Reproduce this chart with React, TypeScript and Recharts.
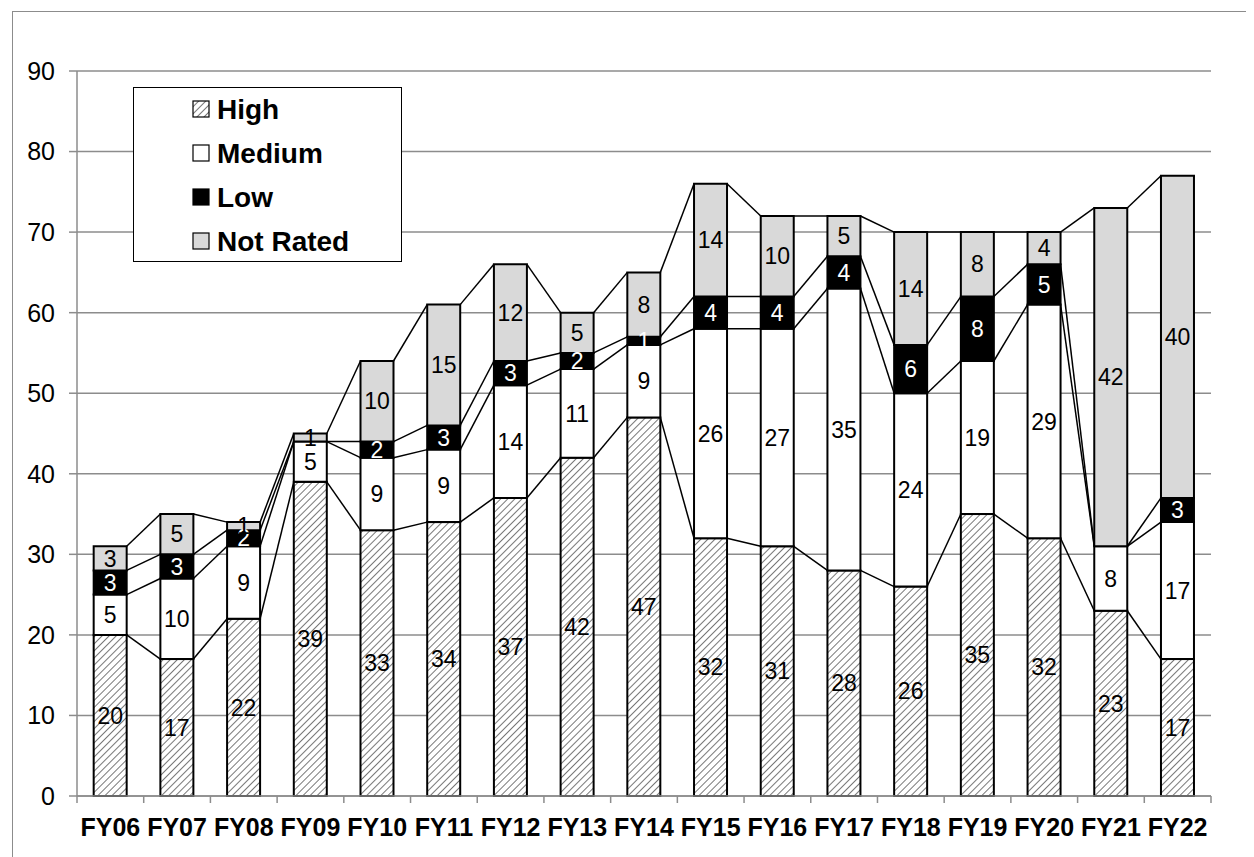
import React from 'react';
import { BarChart, Bar, XAxis, YAxis, CartesianGrid, LabelList, Legend } from 'recharts';

const years = ['FY06', 'FY07', 'FY08', 'FY09', 'FY10', 'FY11', 'FY12', 'FY13', 'FY14', 'FY15', 'FY16', 'FY17', 'FY18', 'FY19', 'FY20', 'FY21', 'FY22'];
const high = [20, 17, 22, 39, 33, 34, 37, 42, 47, 32, 31, 28, 26, 35, 32, 23, 17];
const medium = [5, 10, 9, 5, 9, 9, 14, 11, 9, 26, 27, 35, 24, 19, 29, 8, 17];
const low = [3, 3, 2, 0, 2, 3, 3, 2, 1, 4, 4, 4, 6, 8, 5, 0, 3];
const notRated = [3, 5, 1, 1, 10, 15, 12, 5, 8, 14, 10, 5, 14, 8, 4, 42, 40];
const yTicks = [0, 10, 20, 30, 40, 50, 60, 70, 80, 90];

const data = years.map((name, i) => ({
  name,
  high: high[i],
  medium: medium[i],
  low: low[i],
  notRated: notRated[i],
}));

const CHART_W = 1246;
const CHART_H = 849;
const MARGIN = { top: 63, right: 43, bottom: 21, left: 0 };
const Y_W = 69;
const X_H = 40;
const BAND = (CHART_W - MARGIN.left - MARGIN.right - Y_W) / years.length;

const FONT = '"Liberation Sans", Arial, sans-serif';
const GRID = '#8c8c8c';

// cumulative top of each series for a category
const tops = (i: number) => {
  const a = high[i];
  const b = a + medium[i];
  const c = b + low[i];
  return [a, b, c, c + notRated[i]];
};

// high bar also draws the Excel-style series lines to the next bar
const HighShape = (props: any) => {
  const { x, y, width, height, index } = props;
  const unit = height / high[index];
  const base = y + height;
  const lines: React.ReactNode[] = [];
  if (index < years.length - 1) {
    const cur = tops(index);
    const next = tops(index + 1);
    cur.forEach((v, k) => {
      lines.push(
        <line
          key={k}
          x1={x + width}
          y1={base - v * unit}
          x2={x + BAND}
          y2={base - next[k] * unit}
          stroke="#000"
          strokeWidth={1.5}
        />
      );
    });
  }
  return (
    <g>
      {lines}
      <rect x={x} y={y} width={width} height={height} fill="url(#hatch)" stroke="#000" strokeWidth={2} />
    </g>
  );
};

const XTick = (props: any) => {
  const { x, y, payload, index } = props;
  const half = BAND / 2;
  return (
    <g>
      <line x1={x - half} x2={x - half} y1={y} y2={y + 7} stroke={GRID} strokeWidth={1.5} />
      {index === years.length - 1 && (
        <line x1={x + half} x2={x + half} y1={y} y2={y + 7} stroke={GRID} strokeWidth={1.5} />
      )}
      <text x={x} y={y + 40} textAnchor="middle" fontFamily={FONT} fontWeight="bold" fontSize={25} fill="#000">
        {payload.value}
      </text>
    </g>
  );
};

const legendItems = [
  { label: 'High', fill: 'url(#hatch)' },
  { label: 'Medium', fill: '#ffffff' },
  { label: 'Low', fill: '#000000' },
  { label: 'Not Rated', fill: '#d9d9d9' },
];

const LegendBox = () => (
  <div
    style={{
      boxSizing: 'border-box',
      width: 269,
      height: 175,
      border: '1.5px solid #000',
      background: '#fff',
      paddingLeft: 58,
      paddingTop: 0,
      fontFamily: FONT,
      fontWeight: 'bold',
      fontSize: 28,
    }}
  >
    {legendItems.map((it) => (
      <div key={it.label} style={{ height: 44, display: 'flex', alignItems: 'center' }}>
        <svg width={20} height={20} style={{ marginRight: 5 }}>
          <rect x={1} y={1} width={16} height={16} fill={it.fill} stroke="#000" strokeWidth={1.2} />
        </svg>
        <span>{it.label}</span>
      </div>
    ))}
  </div>
);

const labelStyle = { fontFamily: FONT, fontSize: 23 };

export default function App() {
  return (
    <div style={{ position: 'relative', width: CHART_W, height: CHART_H }}>
      <svg width={0} height={0} style={{ position: 'absolute' }}>
        <defs>
          <pattern id="hatch" patternUnits="userSpaceOnUse" width={5} height={5} patternTransform="rotate(45)">
            <rect width={5} height={5} fill="#fff" />
            <line x1={0} y1={0} x2={0} y2={5} stroke="#555" strokeWidth={1.6} />
          </pattern>
        </defs>
      </svg>
      <div
        style={{
          position: 'absolute',
          left: 4,
          top: 3,
          right: -10,
          bottom: -20,
          borderLeft: `1.5px solid ${GRID}`,
          borderTop: `1.5px solid ${GRID}`,
        }}
      />
      <BarChart width={CHART_W} height={CHART_H} data={data} margin={MARGIN} barCategoryGap="25%">
        <CartesianGrid vertical={false} stroke={GRID} strokeWidth={1.5} />
        <XAxis
          dataKey="name"
          interval={0}
          height={X_H}
          stroke={GRID}
          strokeWidth={1.5}
          tickLine={false}
          tickSize={0}
          tickMargin={0}
          tick={<XTick />}
        />
        <YAxis
          width={Y_W}
          domain={[0, 90]}
          ticks={yTicks}
          interval={0}
          stroke={GRID}
          strokeWidth={1.5}
          tickSize={8}
          tickMargin={14}
          tick={{ fill: '#000', fontSize: 25, fontFamily: FONT }}
        />
        <Legend
          layout="horizontal"
          verticalAlign="middle"
          align="center"
          content={<LegendBox />}
          wrapperStyle={{ position: 'absolute', left: 125, top: 79, width: 269, height: 175 }}
        />
        <Bar dataKey="high" stackId="a" shape={<HighShape />} isAnimationActive={false}>
          <LabelList dataKey="high" position="center" fill="#000" style={labelStyle} />
        </Bar>
        <Bar dataKey="medium" stackId="a" fill="#ffffff" stroke="#000" strokeWidth={2} isAnimationActive={false}>
          <LabelList dataKey="medium" position="center" fill="#000" style={labelStyle} />
        </Bar>
        <Bar dataKey="low" stackId="a" fill="#000000" stroke="#000" strokeWidth={2} isAnimationActive={false}>
          <LabelList dataKey="low" position="center" fill="#fff" style={labelStyle} />
        </Bar>
        <Bar dataKey="notRated" stackId="a" fill="#d9d9d9" stroke="#000" strokeWidth={2} isAnimationActive={false}>
          <LabelList dataKey="notRated" position="center" fill="#000" style={labelStyle} />
        </Bar>
      </BarChart>
    </div>
  );
}
